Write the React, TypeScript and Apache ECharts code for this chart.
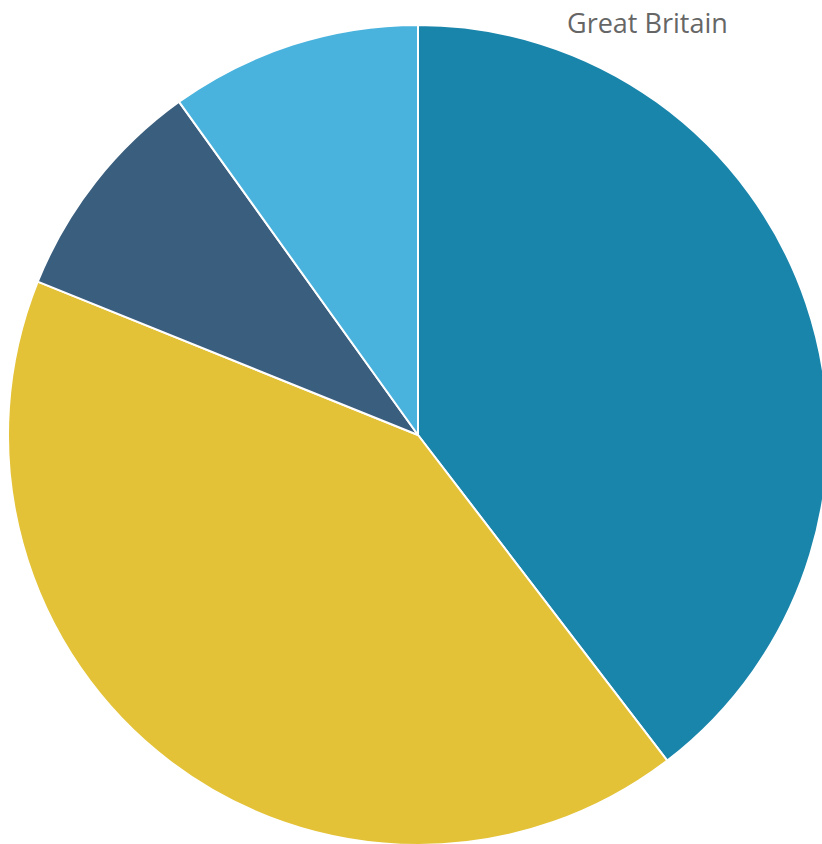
import React, { useEffect, useRef } from "react";
import * as echarts from "echarts";

const categories = ["Great Britain", "Germany", "France", "Italy"];
const values = [39.6, 41.5, 9.0, 9.9];
const colors = ["#1a85ab", "#e3c237", "#3a5e7e", "#4ab3dd"];

export default function App() {
  const ref = useRef<HTMLDivElement>(null);
  useEffect(() => {
    if (!ref.current) return;
    const chart = echarts.init(ref.current, undefined, { renderer: "svg" });
    chart.setOption({
      animation: false,
      graphic: [
        {
          type: "text",
          left: 567,
          top: 9,
          style: {
            text: categories[0],
            fill: "#666666",
            font: "27px 'Open Sans'",
          },
        },
      ],
      series: [
        {
          type: "pie",
          center: [418, 435],
          radius: [0, 410],
          startAngle: 90,
          clockwise: true,
          label: { show: false },
          labelLine: { show: false },
          itemStyle: { borderColor: "#ffffff", borderWidth: 2 },
          emphasis: { disabled: true },
          data: categories.map((n, i) => ({
            name: n,
            value: values[i],
            itemStyle: { color: colors[i] },
          })),
        },
      ],
    });
    return () => chart.dispose();
  }, []);
  return (
    <div
      ref={ref}
      style={{ position: "fixed", left: 0, top: 0, width: 822, height: 844, background: "#fff" }}
    />
  );
}
